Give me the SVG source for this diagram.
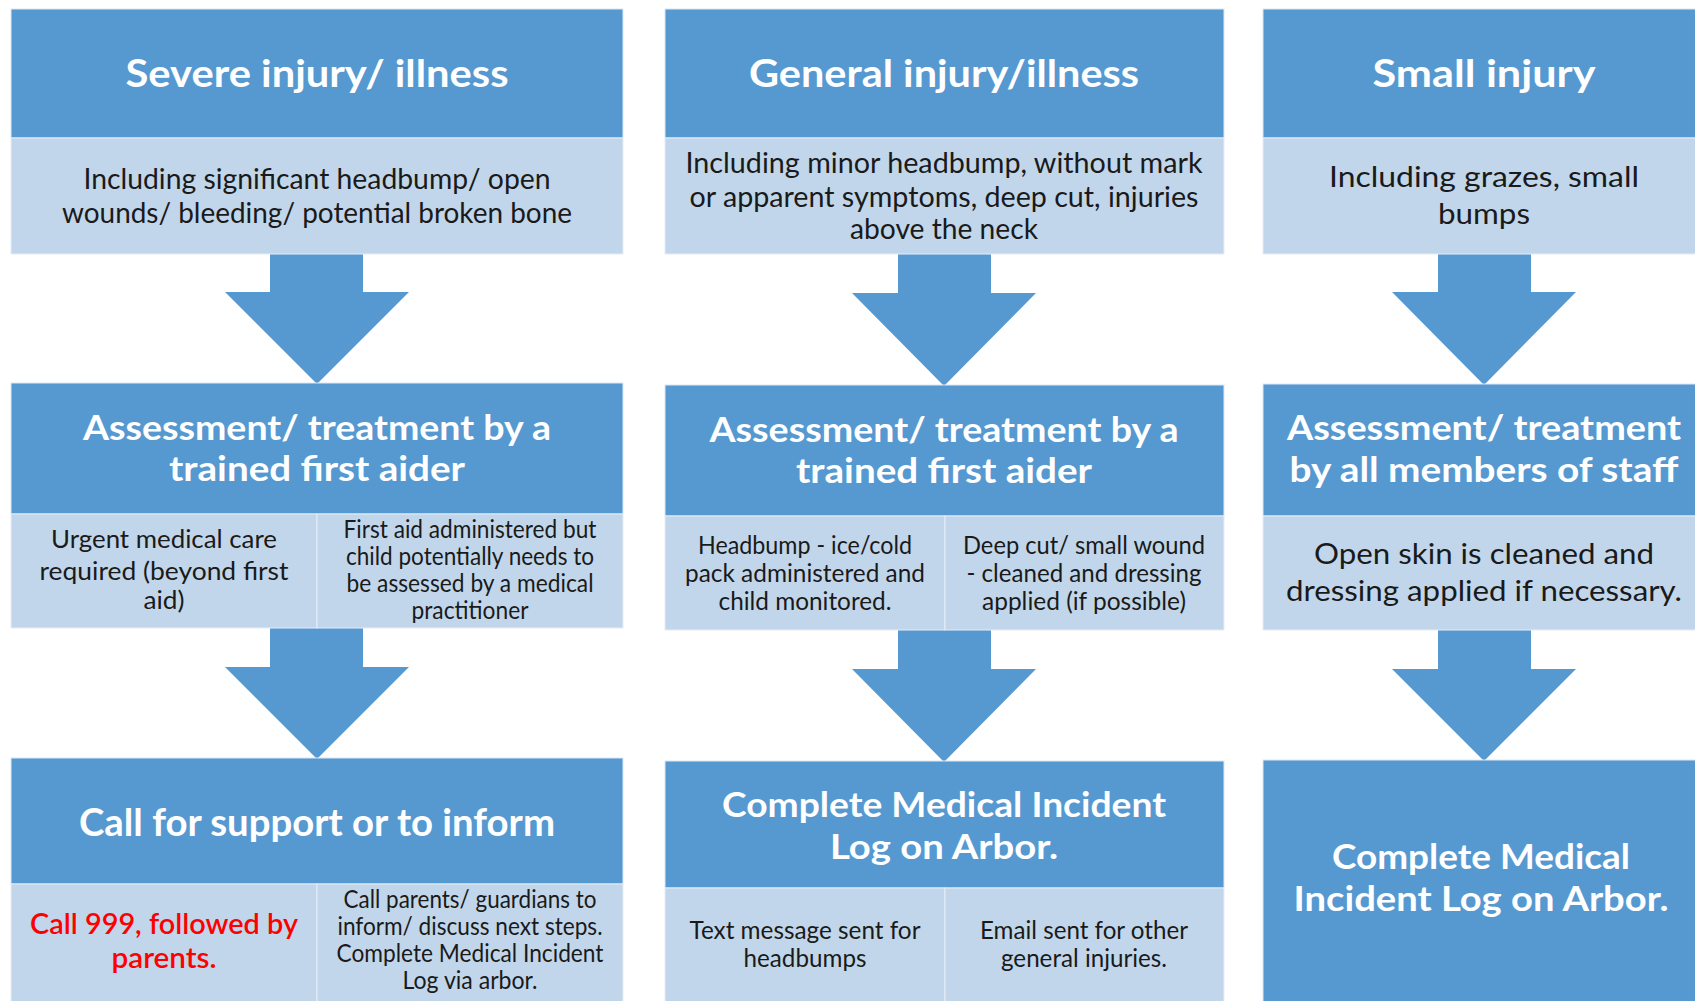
<svg xmlns="http://www.w3.org/2000/svg" width="1695" height="1001" viewBox="0 0 1695 1001">
<style>
.dk{fill:#5699d1;stroke:#dbe8f4;stroke-width:1}
.lt{fill:#c1d6ea;stroke:#e6eef7;stroke-width:1}
.ar{fill:#5699d1}
.h{font-family:Lato,"Open Sans",sans-serif;font-weight:700;fill:#ffffff;font-size:38px;text-anchor:middle}
.h2{font-family:Lato,"Open Sans",sans-serif;font-weight:700;fill:#ffffff;font-size:35px;text-anchor:middle}
.b{font-family:Lato,"Open Sans",sans-serif;fill:#1a1a1a;font-size:29px;text-anchor:middle}
.s{font-family:Lato,"Open Sans",sans-serif;fill:#1a1a1a;font-size:25px;text-anchor:middle}
.r{font-family:Lato,"Open Sans",sans-serif;font-weight:600;fill:#ff0000;font-size:29px;text-anchor:middle}
</style>
<rect width="1695" height="1001" fill="#ffffff"/>
<g id="connectors">
<path class="ar" d="M270,254 H363 V292 H409 L317,384 L225,292 H270 Z"/>
<path class="ar" d="M270,628 H363 V667 H409 L317,759 L225,667 H270 Z"/>
<path class="ar" d="M898,254 H991 V293 H1036 L944,386 L852,293 H898 Z"/>
<path class="ar" d="M898,630 H991 V669 H1036 L944,762 L852,669 H898 Z"/>
<path class="ar" d="M1438,254 H1531 V292 H1576 L1484,385 L1392,292 H1438 Z"/>
<path class="ar" d="M1438,630 H1531 V669 H1576 L1484,761 L1392,669 H1438 Z"/>
</g>
<g id="severe-header">
<rect class="dk" x="11" y="9" width="612" height="129"/>
<text class="h" x="317" y="87" textLength="383" lengthAdjust="spacingAndGlyphs">Severe injury/ illness</text>
</g>
<g id="severe-desc">
<rect class="lt" x="11" y="138" width="612" height="116"/>
<text class="b" x="317" y="189" textLength="467" lengthAdjust="spacingAndGlyphs">Including significant headbump/ open</text>
<text class="b" x="317" y="223" textLength="510" lengthAdjust="spacingAndGlyphs">wounds/ bleeding/ potential broken bone</text>
</g>
<g id="general-header">
<rect class="dk" x="665" y="9" width="559" height="129"/>
<text class="h" x="944" y="87" textLength="390" lengthAdjust="spacingAndGlyphs">General injury/illness</text>
</g>
<g id="general-desc">
<rect class="lt" x="665" y="138" width="559" height="116"/>
<text class="b" x="944" y="173" textLength="517" lengthAdjust="spacingAndGlyphs">Including minor headbump, without mark</text>
<text class="b" x="944" y="207" textLength="509" lengthAdjust="spacingAndGlyphs">or apparent symptoms, deep cut, injuries</text>
<text class="b" x="944" y="239" textLength="188" lengthAdjust="spacingAndGlyphs">above the neck</text>
</g>
<g id="small-header">
<rect class="dk" x="1263" y="9" width="440" height="129"/>
<text class="h" x="1484" y="87" textLength="223" lengthAdjust="spacingAndGlyphs">Small injury</text>
</g>
<g id="small-desc">
<rect class="lt" x="1263" y="138" width="440" height="116"/>
<text class="b" x="1484" y="187" textLength="310" lengthAdjust="spacingAndGlyphs">Including grazes, small</text>
<text class="b" x="1484" y="224" textLength="92" lengthAdjust="spacingAndGlyphs">bumps</text>
</g>
<g id="severe-assess">
<rect class="dk" x="11" y="383" width="612" height="131"/>
<text class="h2" x="317" y="440" textLength="468" lengthAdjust="spacingAndGlyphs">Assessment/ treatment by a</text>
<text class="h2" x="317" y="481" textLength="296" lengthAdjust="spacingAndGlyphs">trained first aider</text>
</g>
<g id="severe-urgent">
<rect class="lt" x="11" y="514" width="306" height="114"/>
<text class="s" x="164" y="548" textLength="226" lengthAdjust="spacingAndGlyphs">Urgent medical care</text>
<text class="s" x="164" y="580" textLength="249" lengthAdjust="spacingAndGlyphs">required  (beyond first</text>
<text class="s" x="164" y="609" textLength="41" lengthAdjust="spacingAndGlyphs">aid)</text>
</g>
<g id="severe-firstaid">
<rect class="lt" x="317" y="514" width="306" height="114"/>
<text class="s" x="470" y="538" font-size="23" textLength="253" lengthAdjust="spacingAndGlyphs">First aid administered but</text>
<text class="s" x="470" y="565" font-size="23" textLength="248" lengthAdjust="spacingAndGlyphs">child potentially needs to</text>
<text class="s" x="470" y="592" font-size="23" textLength="247" lengthAdjust="spacingAndGlyphs">be assessed by a medical</text>
<text class="s" x="470" y="619" font-size="23" textLength="117" lengthAdjust="spacingAndGlyphs">practitioner</text>
</g>
<g id="general-assess">
<rect class="dk" x="665" y="385" width="559" height="131"/>
<text class="h2" x="944" y="442" textLength="469" lengthAdjust="spacingAndGlyphs">Assessment/ treatment by a</text>
<text class="h2" x="944" y="483" textLength="296" lengthAdjust="spacingAndGlyphs">trained first aider</text>
</g>
<g id="general-headbump">
<rect class="lt" x="665" y="516" width="280" height="114"/>
<text class="s" x="805" y="554" textLength="214" lengthAdjust="spacingAndGlyphs">Headbump - ice/cold</text>
<text class="s" x="805" y="582" textLength="240" lengthAdjust="spacingAndGlyphs">pack administered and</text>
<text class="s" x="805" y="610" textLength="173" lengthAdjust="spacingAndGlyphs">child monitored.</text>
</g>
<g id="general-cut">
<rect class="lt" x="945" y="516" width="279" height="114"/>
<text class="s" x="1084" y="554" textLength="242" lengthAdjust="spacingAndGlyphs">Deep cut/ small wound</text>
<text class="s" x="1084" y="582" textLength="235" lengthAdjust="spacingAndGlyphs">- cleaned and dressing</text>
<text class="s" x="1084" y="610" textLength="204" lengthAdjust="spacingAndGlyphs">applied (if possible)</text>
</g>
<g id="small-assess">
<rect class="dk" x="1263" y="384" width="440" height="132"/>
<text class="h2" x="1484" y="440" textLength="394" lengthAdjust="spacingAndGlyphs">Assessment/ treatment</text>
<text class="h2" x="1484" y="482" textLength="389" lengthAdjust="spacingAndGlyphs">by all members of staff</text>
</g>
<g id="small-clean">
<rect class="lt" x="1263" y="516" width="440" height="114"/>
<text class="b" x="1484" y="564" textLength="340" lengthAdjust="spacingAndGlyphs">Open skin is cleaned and</text>
<text class="b" x="1484" y="601" textLength="396" lengthAdjust="spacingAndGlyphs">dressing applied if necessary.</text>
</g>
<g id="severe-call">
<rect class="dk" x="11" y="758" width="612" height="126"/>
<text class="h" x="317" y="836" textLength="476" lengthAdjust="spacingAndGlyphs">Call for support or to inform</text>
</g>
<g id="severe-999">
<rect class="lt" x="11" y="884" width="306" height="130"/>
<text class="r" x="164" y="934" textLength="268" lengthAdjust="spacingAndGlyphs">Call 999, followed by</text>
<text class="r" x="164" y="968" textLength="105" lengthAdjust="spacingAndGlyphs">parents.</text>
</g>
<g id="severe-parents">
<rect class="lt" x="317" y="884" width="306" height="130"/>
<text class="s" x="470" y="908" font-size="23" textLength="253" lengthAdjust="spacingAndGlyphs">Call parents/ guardians to</text>
<text class="s" x="470" y="935" font-size="23" textLength="265" lengthAdjust="spacingAndGlyphs">inform/ discuss next steps.</text>
<text class="s" x="470" y="962" font-size="23" textLength="267" lengthAdjust="spacingAndGlyphs">Complete Medical Incident</text>
<text class="s" x="470" y="989" font-size="23" textLength="135" lengthAdjust="spacingAndGlyphs">Log via arbor.</text>
</g>
<g id="general-log">
<rect class="dk" x="665" y="761" width="559" height="127"/>
<text class="h2" x="944" y="817" textLength="444" lengthAdjust="spacingAndGlyphs">Complete Medical Incident</text>
<text class="h2" x="944" y="859" textLength="228" lengthAdjust="spacingAndGlyphs">Log on Arbor.</text>
</g>
<g id="general-text">
<rect class="lt" x="665" y="888" width="280" height="126"/>
<text class="s" x="805" y="939" textLength="231" lengthAdjust="spacingAndGlyphs">Text message sent for</text>
<text class="s" x="805" y="967" textLength="123" lengthAdjust="spacingAndGlyphs">headbumps</text>
</g>
<g id="general-email">
<rect class="lt" x="945" y="888" width="279" height="126"/>
<text class="s" x="1084" y="939" textLength="208" lengthAdjust="spacingAndGlyphs">Email sent for other</text>
<text class="s" x="1084" y="967" textLength="166" lengthAdjust="spacingAndGlyphs">general injuries.</text>
</g>
<g id="small-log">
<rect class="dk" x="1263" y="760" width="440" height="254"/>
<text class="h2" x="1481" y="869" textLength="298" lengthAdjust="spacingAndGlyphs">Complete Medical</text>
<text class="h2" x="1481" y="911" textLength="375" lengthAdjust="spacingAndGlyphs">Incident Log on Arbor.</text>
</g>
</svg>
